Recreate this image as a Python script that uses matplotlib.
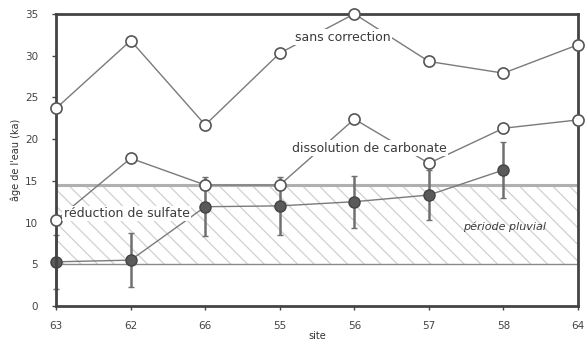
import matplotlib.pyplot as plt
import numpy as np

plt.rcParams['font.family'] = 'DejaVu Sans'
plt.rcParams['hatch.color'] = '#d0d0d0'
plt.rcParams['hatch.linewidth'] = 0.9

# sites along the x axis
sites = ['63', '62', '66', '55', '56', '57', '58', '64']

# water age (ka) for each correction model
sans_correction = [23.7, 31.8, 21.7, 30.3, 35.0, 29.3, 27.9, 31.3]
dissolution_carbonate = [10.3, 17.7, 14.5, 14.5, 22.4, 17.1, 21.3, 22.3]
reduction_sulfate = [5.3, 5.5, 11.9, 12.0, 12.5, 13.3, 16.3]
reduction_err = [3.2, 3.2, 3.5, 3.5, 3.1, 3.0, 3.3]

# pluvial period band
pluvial_low = 5.0
pluvial_high = 14.5

fig = plt.figure(figsize=(5.85, 3.47), dpi=100)
ax = fig.add_axes([0.096, 0.118, 0.892, 0.842])

x = np.arange(len(sites))
line_col = '#7a7a7a'
edge_col = '#555555'

# hatched pluvial band
ax.fill_between([0, len(sites) - 1], pluvial_low, pluvial_high, facecolor='none',
                hatch='\\\\', edgecolor='#d0d0d0', linewidth=0, zorder=0)
ax.axhline(pluvial_high, color='#b0b0b0', lw=2.2, zorder=1)
ax.axhline(pluvial_low, color='#8a8a8a', lw=1.0, zorder=1)

ax.plot(x, sans_correction, '-o', color=line_col, lw=1.0, ms=8, mfc='white',
        mec=edge_col, mew=1.2, clip_on=False, zorder=3)
ax.plot(x, dissolution_carbonate, '-o', color=line_col, lw=1.0, ms=8, mfc='white',
        mec=edge_col, mew=1.2, clip_on=False, zorder=3)
xr = x[:len(reduction_sulfate)]
ax.errorbar(xr, reduction_sulfate, yerr=reduction_err, fmt='-o', color=line_col,
            lw=1.0, ms=8, mfc='#5a5a5a', mec='#444444', mew=1.0, ecolor='#707070',
            elinewidth=1.8, capsize=2.5, capthick=1.2, clip_on=False, zorder=2)

box = dict(facecolor='white', edgecolor='none', pad=1.0)
ax.text(3.85, 32.2, 'sans correction', fontsize=9, color='#3a3a3a',
        ha='center', va='center', bbox=box, zorder=4)
ax.text(4.2, 18.9, 'dissolution de carbonate', fontsize=9, color='#3a3a3a',
        ha='center', va='center', bbox=box, zorder=4)
ax.text(0.1, 11.1, 'réduction de sulfate', fontsize=9, color='#3a3a3a',
        ha='left', va='center', bbox=box, zorder=4)
ax.text(6.02, 9.5, 'période pluvial', fontsize=8, style='italic',
        color='#3a3a3a', ha='center', va='center', zorder=4)

ax.set_xlim(0, len(sites) - 1)
ax.set_ylim(0, 35)
ax.set_xticks(x)
ax.set_xticklabels(sites)
ax.set_yticks(np.arange(0, 36, 5))
ax.tick_params(labelsize=7.5, colors='#444444', length=3, width=1.0, pad=8)
ax.tick_params(axis='y', pad=10)
for s in ax.spines.values():
    s.set_linewidth(2.0)
    s.set_color('#444444')

ax.set_xlabel('site', fontsize=7, color='#333333', labelpad=0)
ax.set_ylabel("âge de l'eau (ka)", fontsize=7, color='#333333', labelpad=3)

fig.savefig('out.png', dpi=100)
